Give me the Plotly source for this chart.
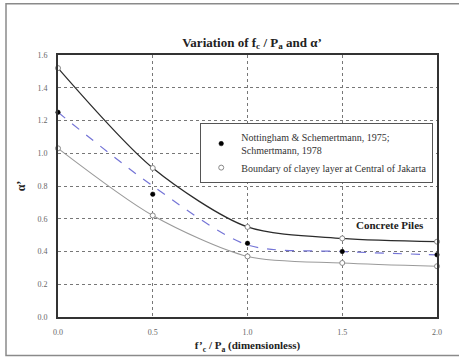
import plotly.graph_objects as go

# ---- data ----
x_vals = [0.0, 0.5, 1.0, 1.5, 2.0]
upper_boundary = [1.52, 0.91, 0.55, 0.48, 0.46]
lower_boundary = [1.03, 0.62, 0.37, 0.33, 0.31]
nottingham = [1.25, 0.75, 0.45, 0.40, 0.38]
nottingham_fit = [1.25, 0.80, 0.44, 0.40, 0.38]
x_ticks = [0.0, 0.5, 1.0, 1.5, 2.0]
x_tick_labels = ["0.0", "0.5", "1.0", "1.5", "2.0"]
y_ticks = [0.0, 0.2, 0.4, 0.6, 0.8, 1.0, 1.2, 1.4, 1.6]
y_tick_labels = ["0.0", "0.2", "0.4", "0.6", "0.8", "1.0", "1.2", "1.4", "1.6"]

FONT = "Liberation Serif"

fig = go.Figure()

# fitted dashed line
fig.add_trace(go.Scatter(x=x_vals, y=nottingham_fit, mode="lines",
                         line=dict(color="#7474d6", width=1.2, dash="dash", shape="spline", smoothing=0.8),
                         showlegend=False, hoverinfo="skip"))
# boundary curves
fig.add_trace(go.Scatter(x=x_vals, y=upper_boundary, mode="lines",
                         line=dict(color="#2b2b2b", width=1.3, shape="spline", smoothing=0.8),
                         showlegend=False, hoverinfo="skip"))
fig.add_trace(go.Scatter(x=x_vals, y=lower_boundary, mode="lines",
                         line=dict(color="#9a9a9a", width=1.1, shape="spline", smoothing=0.8),
                         showlegend=False, hoverinfo="skip"))

# markers
fig.add_trace(go.Scatter(x=x_vals, y=nottingham, mode="markers",
                         name="Nottingham & Schemertmann, 1975;<br>Schmertmann, 1978",
                         marker=dict(symbol="circle", size=4.5, color="black",
                                     line=dict(color="black", width=0.5)),
                         cliponaxis=False))
fig.add_trace(go.Scatter(x=x_vals + x_vals, y=upper_boundary + lower_boundary, mode="markers",
                         name="Boundary of clayey layer at Central of Jakarta",
                         marker=dict(symbol="circle", size=5, color="white",
                                     line=dict(color="#888888", width=1)),
                         cliponaxis=False))

fig.update_layout(
    width=459, height=362,
    margin=dict(l=58, r=22, t=55, b=41),
    paper_bgcolor="white", plot_bgcolor="white",
    font=dict(family=FONT, size=10, color="#333333"),
    title=dict(text="<b>Variation of f<sub>c</sub> / P<sub>a</sub> and α’</b>",
               x=0.549, xanchor="center", y=1 - 42 / 362, yanchor="middle",
               font=dict(family=FONT, size=13, color="#222222")),
    showlegend=True,
    legend=dict(x=0.99, xanchor="right", y=0.74, yanchor="top",
                bgcolor="white", bordercolor="#555555", borderwidth=1,
                font=dict(family=FONT, size=10, color="#333333"),
                itemwidth=30, tracegroupgap=0),
)

fig.update_xaxes(range=[0, 2.0], tickvals=x_ticks, ticktext=x_tick_labels,
                 showgrid=True, gridcolor="#777777", griddash="dot", gridwidth=1,
                 zeroline=False, showline=True, linecolor="#333333", linewidth=2, mirror=True,
                 ticks="", ticklabelstandoff=6,
                 tickfont=dict(family=FONT, size=8, color="#666666"),
                 title=dict(text="<b>f’<sub>c</sub> / P<sub>a</sub> (dimensionless)</b>",
                            font=dict(family=FONT, size=11, color="#222222"), standoff=6))
fig.update_yaxes(range=[0, 1.6], tickvals=y_ticks, ticktext=y_tick_labels,
                 showgrid=True, gridcolor="#777777", griddash="dot", gridwidth=1,
                 zeroline=False, showline=True, linecolor="#333333", linewidth=2, mirror=True,
                 ticks="", ticklabelstandoff=7,
                 tickfont=dict(family=FONT, size=8, color="#666666"),
                 title=dict(text="<b>α’</b>",
                            font=dict(family=FONT, size=12, color="#222222"), standoff=9))

fig.add_annotation(x=1.75, y=0.56, xref="x", yref="y", text="<b>Concrete Piles</b>",
                   showarrow=False, font=dict(family=FONT, size=11, color="#222222"))

# outer chart frame
fig.add_shape(type="rect", xref="paper", yref="paper",
              x0=(6 - 58) / 379, x1=(470 - 58) / 379,
              y0=(321 - 360) / 266, y1=(321 - 3) / 266,
              line=dict(color="#8a8a8a", width=1.5), layer="below")

fig.write_html("out.html")
